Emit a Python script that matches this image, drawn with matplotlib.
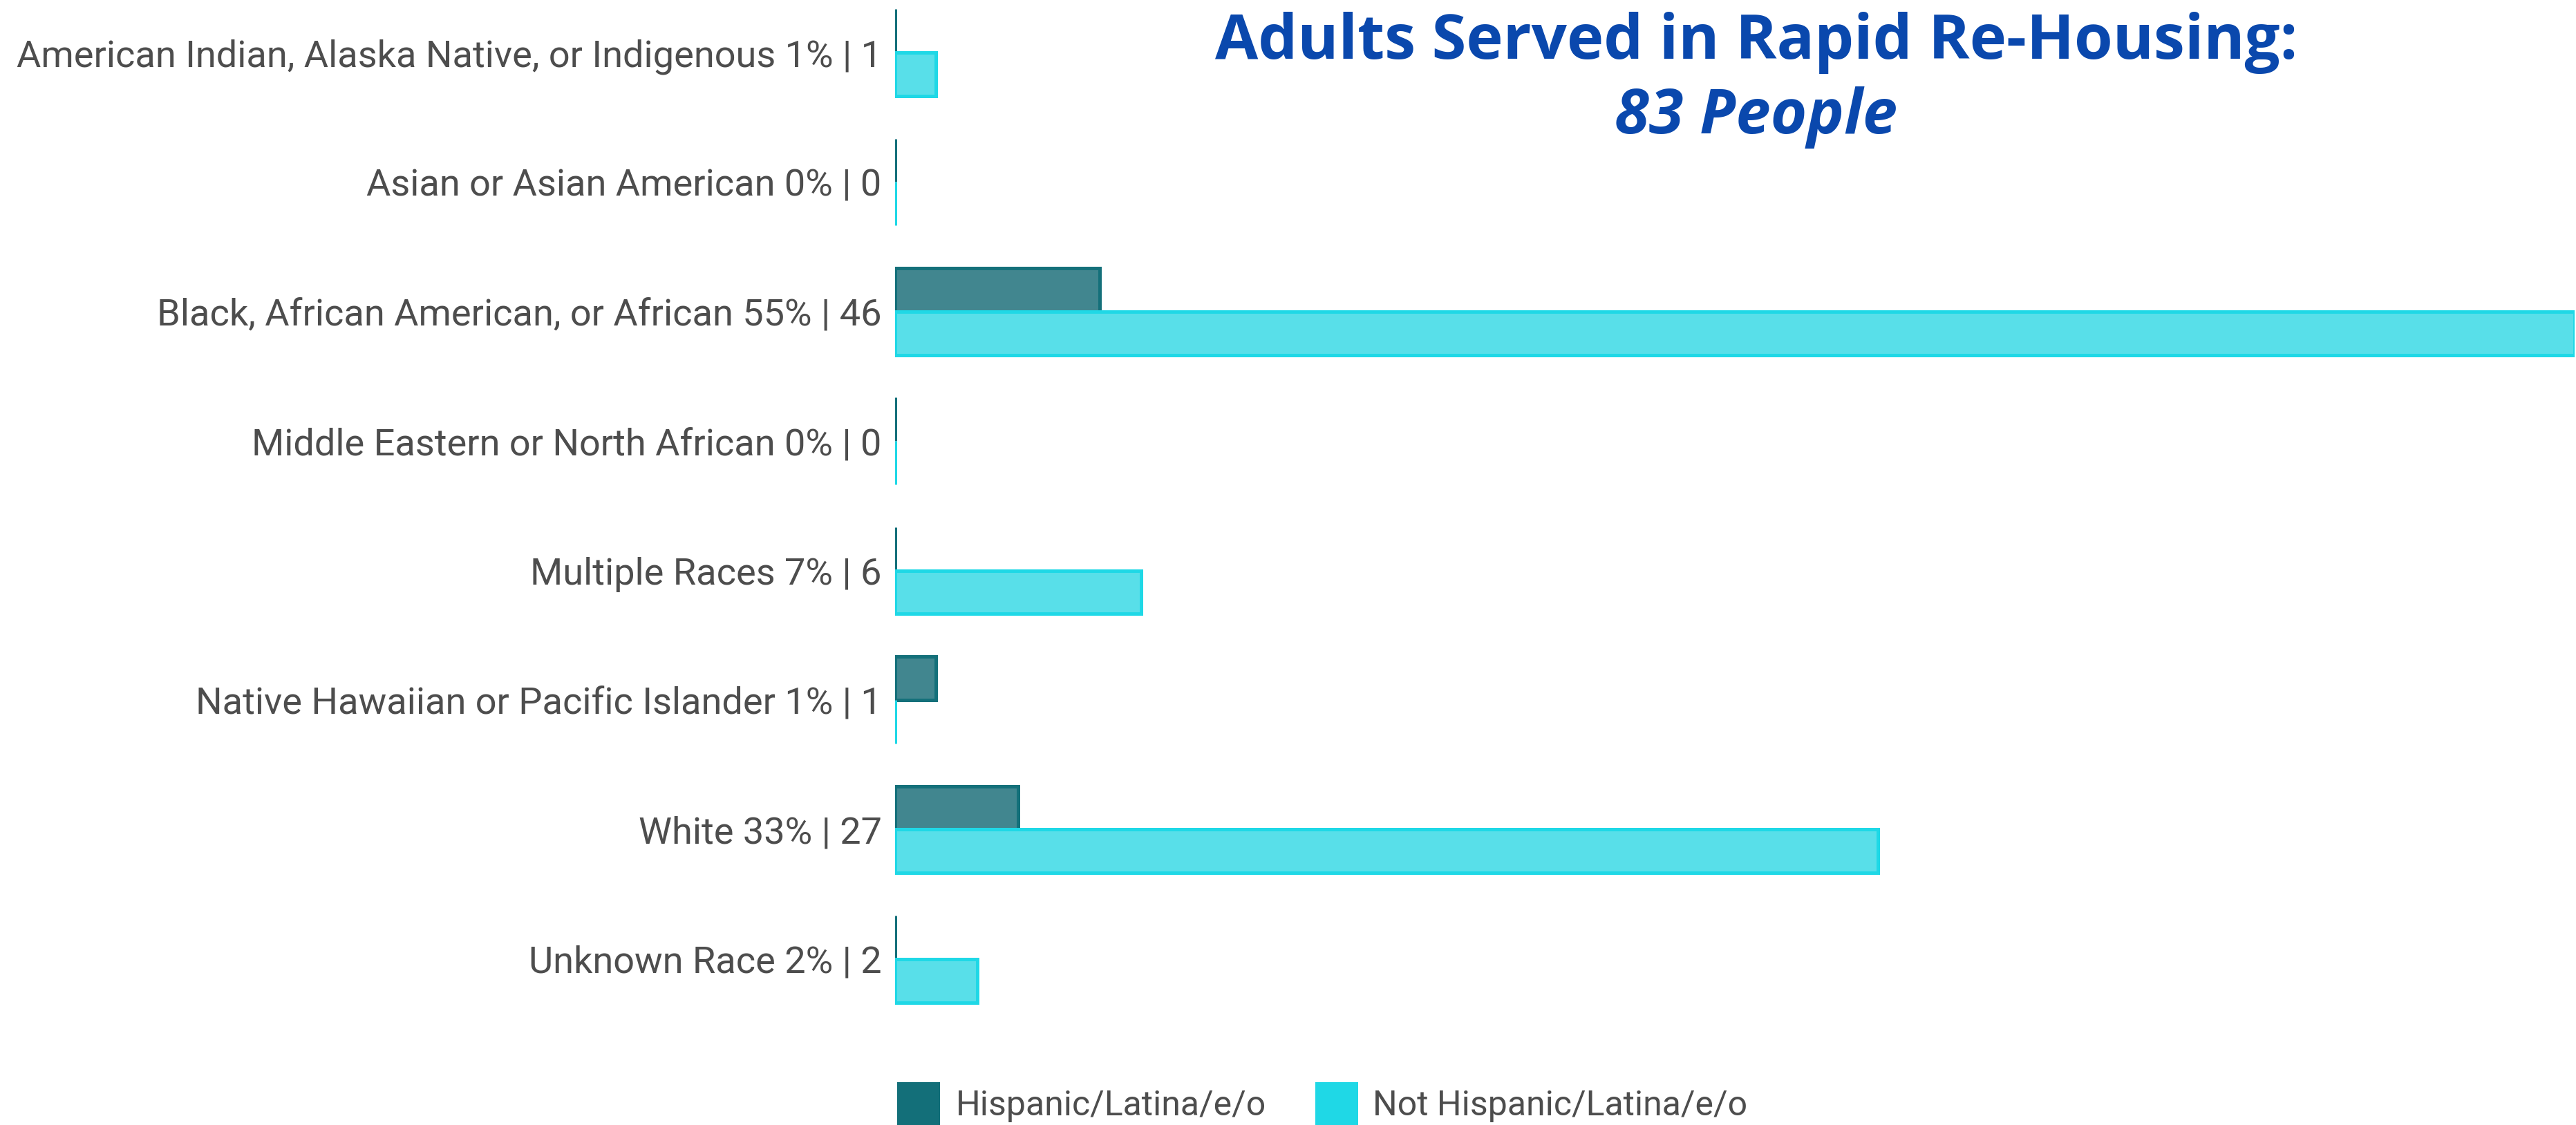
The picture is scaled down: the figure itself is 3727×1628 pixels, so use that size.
import matplotlib
matplotlib.use("Agg")
import matplotlib.pyplot as plt
from matplotlib.patches import Rectangle

categories = [
    "American Indian, Alaska Native, or Indigenous",
    "Asian or Asian American",
    "Black, African American, or African",
    "Middle Eastern or North African",
    "Multiple Races",
    "Native Hawaiian or Pacific Islander",
    "White",
    "Unknown Race",
]
hispanic = [0, 0, 5, 0, 0, 1, 3, 0]
not_hispanic = [1, 0, 41, 0, 6, 0, 24, 2]
total_people = 83
series_names = ["Hispanic/Latina/e/o", "Not Hispanic/Latina/e/o"]
title_line1 = "Adults Served in Rapid Re-Housing:"
title_line2 = "83 People"

W, H = 3727, 1628
DPI = 100
fig = plt.figure(figsize=(W / DPI, H / DPI), dpi=DPI)
plt.rcParams['font.family'] = ['Roboto', 'DejaVu Sans']

x0, x1 = 1295, 3725
ax = fig.add_axes([x0 / W, 0, (x1 - x0) / W, 1])
n = len(categories)
c0, step = 76, 187.4
top = -c0 / step
bottom = (n - 1) + (H - (c0 + (n - 1) * step)) / step
ax.set_ylim(bottom, top)
ax.set_xlim(0, max(not_hispanic))

bh = 0.335
dark_fill, dark_edge = "#41868f", "#14707a"
cyan_fill, cyan_edge = "#58dfe9", "#1fd8e6"
ys = list(range(n))
ax.barh([y - bh / 2 for y in ys], hispanic, height=bh, color=dark_fill,
        edgecolor=dark_edge, linewidth=3.6, align="center")
ax.barh([y + bh / 2 for y in ys], not_hispanic, height=bh, color=cyan_fill,
        edgecolor=cyan_edge, linewidth=3.6, align="center")

labels = []
for c, h, nh in zip(categories, hispanic, not_hispanic):
    t = h + nh
    pct = round(t / total_people * 100)
    labels.append(f"{c} {pct}% | {t}")
ax.set_yticks(ys)
ax.set_yticklabels(labels, fontsize=39, color="#4d4d4d")
ax.tick_params(axis="y", length=0, pad=14)
ax.set_xticks([])
for s in ax.spines.values():
    s.set_visible(False)
ax.set_facecolor("none")

# title
fig.text(2541 / W, 1 - 62 / H, title_line1, ha="center", va="center",
         fontsize=65, fontweight="bold", color="#0a48ad",
         family=["Open Sans", "DejaVu Sans"])
fig.text(2541 / W, 1 - 170 / H, title_line2, ha="center", va="center",
         fontsize=65, fontweight="bold", fontstyle="italic", color="#0a48ad",
         family=["Open Sans", "DejaVu Sans"])

# legend
leg = [(1298, "#136f79", series_names[0], 1383), (1903, "#1fd8e6", series_names[1], 1986)]
for px, col, name, tx in leg:
    fig.patches.append(Rectangle((px / W, 0), 62 / W, 62 / H, transform=fig.transFigure,
                                 facecolor=col, edgecolor="none"))
    fig.text(tx / W, 1 - 1600 / H, name, ha="left", va="center", fontsize=36,
             color="#4d4d4d")

fig.savefig("out.png", dpi=DPI, facecolor="white")
